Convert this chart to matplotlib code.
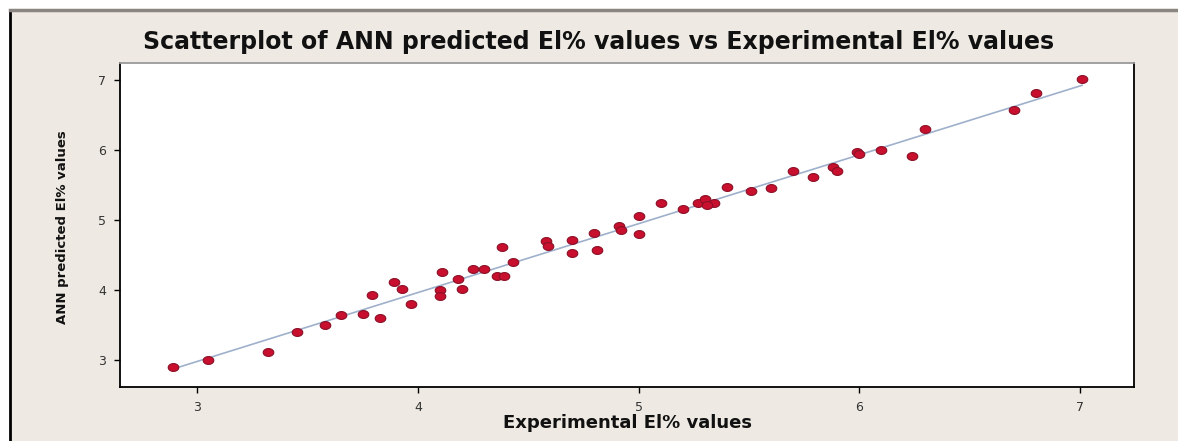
import numpy as np
import matplotlib
matplotlib.use("Agg")
import matplotlib.pyplot as plt
from matplotlib.path import Path
from matplotlib.patches import Rectangle
from matplotlib.lines import Line2D

# values
experimental = [
    2.89, 3.05, 3.32, 3.45, 3.58, 3.65, 3.75, 3.83, 3.79, 3.89,
    3.93, 3.97, 4.11, 4.10, 4.10, 4.18, 4.20, 4.25, 4.30, 4.36,
    4.39, 4.38, 4.43, 4.58, 4.59, 4.70, 4.70, 4.80, 4.81, 4.91,
    4.92, 5.00, 5.00, 5.10, 5.20, 5.27, 5.30, 5.34, 5.31, 5.40,
    5.51, 5.60, 5.70, 5.79, 5.88, 5.90, 5.99, 6.00, 6.10, 6.24,
    6.30, 6.70, 6.80, 7.01,
]
ann_predicted = [
    2.90, 2.99, 3.11, 3.39, 3.49, 3.64, 3.66, 3.60, 3.93, 4.11,
    4.01, 3.79, 4.26, 4.00, 3.91, 4.16, 4.01, 4.29, 4.30, 4.20,
    4.19, 4.61, 4.39, 4.70, 4.62, 4.71, 4.53, 4.81, 4.57, 4.91,
    4.86, 4.79, 5.06, 5.24, 5.16, 5.24, 5.29, 5.24, 5.21, 5.47,
    5.41, 5.46, 5.69, 5.61, 5.76, 5.69, 5.97, 5.94, 5.99, 5.91,
    6.29, 6.57, 6.81, 7.01,
]
ticks = [3, 4, 5, 6, 7]

BEIGE = "#EEEAE3"

fig = plt.figure(figsize=(11.78, 4.41), dpi=100)
fig.patch.set_facecolor("white")

# beige window frame behind everything
fig.add_artist(Rectangle((10 / 1178, 0), 1 - 10 / 1178, 1 - 10 / 441,
                         transform=fig.transFigure, facecolor=BEIGE,
                         edgecolor="none", zorder=-10))
fig.add_artist(Line2D([10 / 1178, 10 / 1178], [0, 1 - 10 / 441],
                      transform=fig.transFigure, color="black", lw=2,
                      zorder=-5))
fig.add_artist(Line2D([10 / 1178, 1], [1 - 10 / 441, 1 - 10 / 441],
                      transform=fig.transFigure, color="#8a8580", lw=2.5,
                      zorder=-5))

ax = fig.add_axes([120 / 1178, 54 / 441, 1014 / 1178, 324 / 441])
ax.set_zorder(1)
ax.set_facecolor("white")

# slightly wide ellipse marker, like the stretched dots in the reference
theta = np.linspace(0, 2 * np.pi, 40)
ellipse = Path(np.column_stack([1.35 * np.cos(theta), np.sin(theta)]), closed=True)

x = np.array(experimental)
y = np.array(ann_predicted)
slope, intercept = np.polyfit(x, y, 1)
xs = np.array([x.min(), x.max()])
ax.plot(xs, slope * xs + intercept, color="#9fb0cc", lw=1.2, zorder=2)

ax.scatter(x, y, marker=ellipse, s=58, color="#c8102e",
           edgecolor="#8a0f25", linewidth=0.8, zorder=3)

ax.set_xlim(2.65, 7.245)
ax.set_ylim(2.61, 7.24)
ax.set_xticks(ticks)
ax.set_yticks(ticks)
ax.tick_params(direction="out", length=4, width=1, labelsize=9,
               labelcolor="#333333", pad=6, top=False, right=False)

for side in ["left", "bottom", "right", "top"]:
    ax.spines[side].set_color("black")
    ax.spines[side].set_linewidth(1.3)
ax.spines["top"].set_color("#9a9a9a")

fig.text(0.508, 0.905,
         "Scatterplot of ANN predicted El% values vs Experimental El% values",
         ha="center", va="center", fontsize=17, fontweight="bold",
         color="#111111")
fig.text(0.533, 0.041, "Experimental El% values", ha="center", va="center",
         fontsize=13, fontweight="bold", color="#111111")
fig.text(0.053, 0.485, "ANN predicted El% values", ha="center", va="center",
         rotation=90, fontsize=9.5, fontweight="bold", color="#111111")

fig.savefig("out.png", dpi=100, facecolor=fig.get_facecolor())
